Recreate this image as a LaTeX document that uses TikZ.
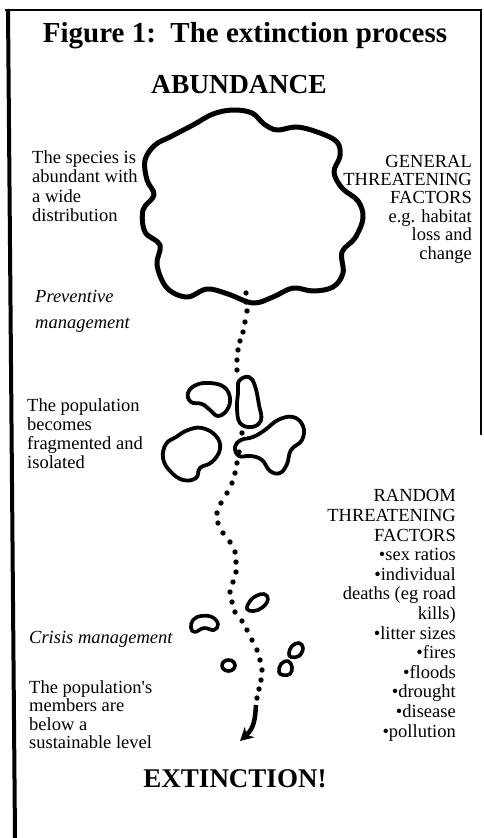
\documentclass[tikz,border=0pt]{standalone}
\usepackage{fontspec}
\setmainfont{Liberation Serif}
\usetikzlibrary{arrows.meta}
\begin{document}
\begin{tikzpicture}[x=1pt,y=-1pt,
  body/.style={inner sep=0pt, font=\fontsize{18.5}{19.5}\selectfont},
  bodyL/.style={body, align=left, anchor=base west},
  bodyR/.style={body, align=right, anchor=base east},
  heading/.style={inner sep=0pt, anchor=base, font=\fontsize{27}{30}\selectfont\bfseries},
  blob/.style={line width=3.8pt, line join=round},
  smallblob/.style={line width=3.6pt, line join=round},
  trail/.style={fill=black, draw=none},
  frameline/.style={line width=2.5pt},
]
\useasboundingbox (0,0) rectangle (483,838);
% frame
\draw[frameline] (5,10) -- (482,10);
\draw[line width=4pt] (8,9) -- (15,838);
\draw[frameline] (481,9) -- (481,435);

% headings
\node[heading, font=\fontsize{29}{32}\selectfont\bfseries] (title) at (245,42) {Figure 1:\ \ The extinction process};
\node[heading, font=\fontsize{27.5}{30}\selectfont\bfseries] (abund) at (239,93) {ABUNDANCE};
\node[heading] (extinct) at (235,787) {EXTINCTION!};

% cloud
\draw[line width=5pt, line join=round] plot[smooth cycle, tension=0.6] coordinates {
 (170,137) (193,125) (213,114) (233,110) (252,113) (264,124) (277,130) (297,127)
 (320,133) (337,142) (340,156) (334,172) (342,188) (358,201) (363,218) (355,238)
 (342,252) (343,273) (333,287) (313,291) (293,288) (273,297) (253,303) (228,294)
 (207,289) (187,297) (167,288) (157,265) (160,245) (145,232) (143,210) (154,195)
 (147,180) (145,160) (155,145)};

% fragments
\draw[blob] plot[smooth cycle, tension=0.7] coordinates {
 (188,393) (196,385) (210,383) (224,387) (230,398) (227,410) (218,416) (210,410) (202,404) (191,402)};
\draw[blob] plot[smooth cycle, tension=0.7] coordinates {
 (239,381) (249,377) (255,386) (259,405) (261,420) (252,427) (240,423) (237,408) (238,393)};
\draw[blob] plot[smooth cycle, tension=0.7] coordinates {
 (188,430) (202,428) (216,436) (220,449) (212,462) (200,468) (196,478) (183,480)
 (170,471) (163,458) (166,444) (176,437)};
\draw[blob] plot[smooth cycle, tension=0.7] coordinates {
 (265,430) (278,420) (293,417) (303,426) (302,440) (291,450) (287,464) (280,473)
 (270,471) (262,460) (251,456) (239,456) (235,447) (241,440) (253,437)};

% small remnants
\draw[smallblob] plot[smooth cycle, tension=0.7] coordinates {
 (247,609) (250,601) (256,596) (264,594) (268,599) (263,607) (254,611)};
\draw[smallblob] plot[smooth cycle, tension=0.7] coordinates {
 (191,628) (193,620) (201,616) (212,617) (218,624) (214,630) (204,628) (195,632)};
\draw[smallblob] plot[smooth cycle, tension=0.7] coordinates {
 (289,653) (292,646) (299,643) (303,648) (299,656) (291,657)};
\draw[smallblob] (228.5,665.5) ellipse (6.5pt and 5.5pt);
\draw[smallblob] plot[smooth cycle, tension=0.7] coordinates {
 (279,672) (281,664) (288,661) (292,667) (290,674) (283,675)};

% dotted trail
\foreach \p in {(246,293),(246,302),(247,311),(245,322),(243,332),(240,341),(238,350),
 (237,360),(237,370),(242,433),(239,452),(237,463),(235,473),(232,483),(227,493),(221,503),
 (217,513),(218,523),(223,533),(230,542),(235,552),(236,562),(236,572),(233,582),(230,592),
 (232,602),(235,612),(242,621),(247,630),(252,640),(257,650),(260,660),(262,670),(261,680),
 (259,689),(257,698)}
  \fill[trail] \p circle (2.7pt);
\coordinate (arrS) at (256,705);
\coordinate (arrE) at (240,741);
\draw[line width=4.5pt, -{Stealth[length=13pt,width=14pt,inset=4pt]}]
  (arrS) .. controls (255,720) and (254,728) .. (arrE);

% texts (anchor = baseline of the last line)
\node[bodyL] (species) at (32,221.5) {The species is\\abundant with\\a wide\\distribution};
\node[bodyR, font=\fontsize{18.5}{18.4}\selectfont] (general) at (472,259)
  {GENERAL\\THREATENING\\FACTORS\\e.g. habitat\\loss and\\change};
\node[bodyL, font=\fontsize{18.5}{26}\selectfont\itshape] (prev) at (35,328) {Preventive\\management};
\node[bodyL, font=\fontsize{18.5}{19}\selectfont] (frag) at (27,468) {The population\\becomes\\fragmented and\\isolated};
\node[bodyR, font=\fontsize{18.5}{19.6}\selectfont] (random) at (456,737)
  {RANDOM\\THREATENING\\FACTORS\\•sex ratios\\•individual\\deaths (eg road\\kills)\\•litter sizes\\•fires\\•floods\\•drought\\•disease\\•pollution};
\node[bodyL, font=\fontsize{18.5}{19.5}\selectfont\itshape] (crisis) at (29,643) {Crisis management};
\node[bodyL, font=\fontsize{18.5}{18.5}\selectfont] (members) at (29,748.5) {The population\textquotesingle s\\members are\\below a\\sustainable level};
\end{tikzpicture}
\end{document}
